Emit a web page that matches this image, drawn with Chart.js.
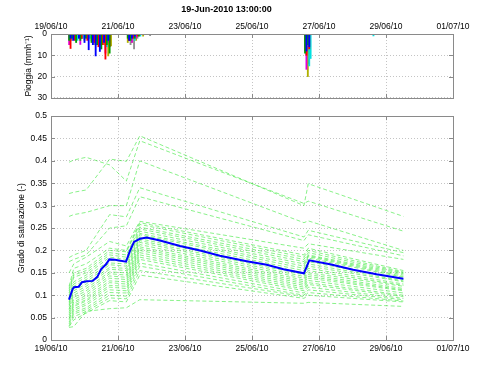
<!DOCTYPE html>
<html>
<head>
<meta charset="utf-8">
<script src="https://cdn.jsdelivr.net/npm/chart.js@4.4.1/dist/chart.umd.min.js"></script>
<style>
  body { margin: 0; background: #fff; width: 504px; height: 379px; position: relative; overflow: hidden; }
  canvas { position: absolute; left: 0; }
  #rainChart { top: 0; }
  #satChart { top: 107px; }
</style>
</head>
<body>
<canvas id="rainChart" width="504" height="107"></canvas>
<canvas id="satChart" width="504" height="272"></canvas>
<script>
// x values are days from 19/06/2010 00:00
const tickDays = [0, 2, 4, 6, 8, 10, 12];

// rainfall (mm/h), one array per gauge; times in hours from 19/06/2010 00:00
const rainColors = ['#0000ff', '#00a000', '#ff0000', '#00e0e0', '#e000e0', '#b0b000', '#909090', '#000000'];
const rainHours = [
  [14, 16, 20, 24, 27, 30, 32, 35, 38, 41, 56, 58, 60, 183, 185],
  [13, 15, 18, 21, 25, 29, 33, 36, 40, 42, 55, 57, 60, 63, 182, 184],
  [14, 17, 22, 26, 31, 34, 37, 39, 42, 56, 59, 62, 183, 185],
  [15, 19, 23, 28, 33, 37, 40, 57, 60, 64, 183, 185, 186, 231],
  [13, 16, 21, 26, 30, 35, 39, 41, 56, 58, 61, 182, 183, 184],
  [14, 18, 24, 29, 34, 38, 41, 43, 55, 58, 61, 66, 184, 185],
  [15, 20, 27, 31, 36, 40, 57, 59.5, 62, 71, 75, 183, 184.5],
  [16, 22, 33, 39, 56, 60, 184]
];
const rainMm = [
  [2, 3, 2, 4, 7.4, 5, 10.3, 8.2, 4, 3, 3, 2, 1, 8, 6],
  [3, 2, 4, 3, 2, 4, 5, 7, 5, 9, 2, 3, 2, 1, 9, 5],
  [6.8, 3, 2, 3, 4, 6, 5, 11.8, 6, 3, 2, 1, 10, 7],
  [2, 3, 2, 2, 3, 4, 6, 2, 3, 1, 7, 15, 11.5, 0.9],
  [5, 2, 4.9, 2, 3, 5, 9, 4, 2, 4, 2, 8, 16.6, 6],
  [2, 3, 3, 3, 4, 5, 10.3, 5.6, 4, 4, 3, 1, 20, 9],
  [3, 2, 2, 5, 7, 4, 5, 7, 2, 0.8, 0.3, 10, 12],
  [1, 2, 3, 4, 3, 2, 14]
];

// mean degree of saturation (blue)
const meanDays = [0.537, 0.647, 0.687, 0.826, 0.925, 1.065, 1.244, 1.383, 1.493, 1.642, 1.741, 1.91, 2.239,
  2.358, 2.478, 2.657, 2.856, 3.254, 3.85, 4.45, 5.04, 5.84, 6.44, 6.94, 7.55, 7.71, 8.33, 9.02, 9.72, 10.52];
const meanSat = [0.090, 0.114, 0.118, 0.119, 0.129, 0.131, 0.132, 0.141, 0.158, 0.169, 0.180, 0.179, 0.175,
  0.199, 0.219, 0.226, 0.229, 0.222, 0.210, 0.200, 0.188, 0.176, 0.168, 0.158, 0.149, 0.178, 0.169, 0.157, 0.147, 0.137];

// ensemble members (green dashed), sampled at the same knot times
const memberDays = [0.54, 0.68, 1.05, 1.75, 2.25, 2.65, 7.55, 7.68, 10.52];
const members = [
  [0.397, 0.402, 0.408, 0.391, 0.355, 0.445, 0.305, 0.310, 0.243],
  [0.327, 0.330, 0.335, 0.404, 0.399, 0.456, 0.300, 0.349, 0.276],
  [0.276, 0.280, 0.285, 0.300, 0.300, 0.400, 0.262, 0.266, 0.200],
  [0.184, 0.190, 0.200, 0.280, 0.275, 0.340, 0.230, 0.245, 0.195],
  [0.175, 0.180, 0.190, 0.250, 0.255, 0.320, 0.222, 0.235, 0.188],
  [0.150, 0.170, 0.185, 0.220, 0.210, 0.265, 0.205, 0.215, 0.180],
  [0.120, 0.160, 0.170, 0.205, 0.200, 0.262, 0.190, 0.205, 0.155],
  [0.115, 0.150, 0.160, 0.200, 0.197, 0.258, 0.185, 0.200, 0.152],
  [0.110, 0.145, 0.155, 0.195, 0.190, 0.252, 0.180, 0.195, 0.150],
  [0.105, 0.140, 0.150, 0.190, 0.185, 0.248, 0.175, 0.190, 0.148],
  [0.100, 0.130, 0.145, 0.185, 0.180, 0.243, 0.170, 0.188, 0.145],
  [0.095, 0.125, 0.140, 0.178, 0.175, 0.238, 0.165, 0.186, 0.142],
  [0.090, 0.120, 0.135, 0.172, 0.170, 0.235, 0.160, 0.183, 0.140],
  [0.085, 0.115, 0.130, 0.168, 0.165, 0.230, 0.155, 0.175, 0.135],
  [0.082, 0.110, 0.125, 0.162, 0.160, 0.226, 0.150, 0.170, 0.132],
  [0.078, 0.105, 0.120, 0.158, 0.155, 0.222, 0.146, 0.165, 0.130],
  [0.075, 0.100, 0.115, 0.152, 0.150, 0.218, 0.142, 0.160, 0.125],
  [0.070, 0.095, 0.110, 0.148, 0.145, 0.213, 0.138, 0.155, 0.122],
  [0.068, 0.090, 0.105, 0.143, 0.140, 0.208, 0.134, 0.150, 0.120],
  [0.064, 0.085, 0.100, 0.138, 0.135, 0.204, 0.130, 0.146, 0.115],
  [0.060, 0.082, 0.095, 0.132, 0.130, 0.200, 0.126, 0.142, 0.112],
  [0.056, 0.078, 0.090, 0.128, 0.125, 0.195, 0.122, 0.138, 0.110],
  [0.052, 0.075, 0.087, 0.122, 0.120, 0.190, 0.118, 0.133, 0.105],
  [0.048, 0.070, 0.082, 0.118, 0.115, 0.185, 0.114, 0.128, 0.100],
  [0.045, 0.066, 0.078, 0.112, 0.110, 0.180, 0.110, 0.124, 0.097],
  [0.040, 0.062, 0.072, 0.106, 0.105, 0.172, 0.105, 0.118, 0.093],
  [0.036, 0.058, 0.068, 0.100, 0.098, 0.165, 0.100, 0.112, 0.090],
  [0.032, 0.052, 0.064, 0.094, 0.092, 0.155, 0.097, 0.106, 0.087],
  [0.030, 0.045, 0.060, 0.088, 0.085, 0.145, 0.093, 0.100, 0.085],
  [0.028, 0.030, 0.064, 0.070, 0.072, 0.090, 0.082, 0.084, 0.075]
];

const font = { family: 'Liberation Sans, Arial, sans-serif', size: 8.5 };

function dayLabel(v) {
  const d = new Date(2010, 5, 19 + v);
  const p = n => String(n).padStart(2, '0');
  return p(d.getDate()) + '/' + p(d.getMonth() + 1) + '/' + p(d.getFullYear() % 100);
}

function xAxis(position, pad, height) {
  return {
    type: 'linear', position: position, min: 0, max: 12, offset: false,
    afterBuildTicks: s => { s.ticks = tickDays.map(v => ({ value: v })); },
    afterFit: s => { s.height = height; },
    ticks: { callback: dayLabel, font: font, color: '#000', padding: pad, maxRotation: 0, autoSkip: false },
    grid: { color: '#c4c4c4', drawTicks: false, offset: false },
    border: { display: false, dash: [1, 2] }
  };
}

// MATLAB-like box with inward ticks
const boxPlugin = {
  id: 'box',
  afterDraw(chart) {
    const { ctx, chartArea: a, scales } = chart;
    ctx.save();
    ctx.strokeStyle = '#8a8a8a';
    ctx.lineWidth = 1;
    ctx.beginPath();
    scales.x.ticks.forEach(t => {
      const px = Math.round(scales.x.getPixelForValue(t.value)) + 0.5;
      ctx.moveTo(px, a.top); ctx.lineTo(px, a.top + 4);
      ctx.moveTo(px, a.bottom); ctx.lineTo(px, a.bottom - 4);
    });
    scales.y.ticks.forEach(t => {
      const py = Math.round(scales.y.getPixelForValue(t.value)) + 0.5;
      ctx.moveTo(a.left, py); ctx.lineTo(a.left + 4, py);
      ctx.moveTo(a.right, py); ctx.lineTo(a.right - 4, py);
    });
    ctx.stroke();
    ctx.strokeRect(Math.round(a.left) + 0.5, Math.round(a.top) + 0.5,
      Math.round(a.right - a.left), Math.round(a.bottom - a.top));
    ctx.restore();
  }
};

// Rainfall panel
new Chart(document.getElementById('rainChart'), {
  type: 'bar',
  data: {
    datasets: rainHours.map((hrs, g) => ({
      data: hrs.map((h, i) => ({ x: h / 24, y: rainMm[g][i] })),
      backgroundColor: rainColors[g],
      barThickness: 1.2,
      grouped: false
    }))
  },
  options: {
    responsive: false, animation: false,
    layout: { padding: { left: 0, right: 51, top: 0, bottom: 5.3 } },
    plugins: {
      legend: { display: false }, tooltip: { enabled: false },
      title: {
        display: true, text: '19-Jun-2010 13:00:00', color: '#000',
        font: { family: font.family, size: 9, weight: 'bold' }, padding: { top: 4, bottom: 4 }
      }
    },
    scales: {
      x: xAxis('top', 2, 15.2),
      y: {
        type: 'linear', reverse: true, min: 0, max: 30,
        afterFit: s => { s.width = 51; },
        ticks: { stepSize: 10, font: font, color: '#000', padding: 4 },
        grid: { color: '#c4c4c4', drawTicks: false },
        border: { display: false, dash: [1, 2] },
        title: { display: true, text: 'Pioggia (mmh⁻¹)', font: font, color: '#000', padding: { top: 24, bottom: 0 } }
      }
    }
  },
  plugins: [boxPlugin]
});

// Degree of saturation panel
const satSets = [{
  data: meanDays.map((d, i) => ({ x: d, y: meanSat[i] })),
  borderColor: '#0000ff', borderWidth: 2, pointRadius: 0, tension: 0
}].concat(members.map(m => ({
  data: memberDays.map((d, i) => ({ x: d, y: m[i] })),
  borderColor: 'rgba(40, 230, 40, 0.55)', borderWidth: 1, borderDash: [4, 2.5], pointRadius: 0, tension: 0
})));

new Chart(document.getElementById('satChart'), {
  type: 'line',
  data: { datasets: satSets },
  options: {
    responsive: false, animation: false,
    layout: { padding: { left: 0, right: 51, top: 6.3, bottom: 0 } },
    plugins: { legend: { display: false }, tooltip: { enabled: false } },
    scales: {
      x: xAxis('bottom', 3.5, 39),
      y: {
        type: 'linear', min: 0, max: 0.5,
        afterFit: s => { s.width = 51; },
        ticks: { stepSize: 0.05, font: font, color: '#000', padding: 4, callback: v => String(+v.toFixed(2)) },
        grid: { color: '#c4c4c4', drawTicks: false },
        border: { display: false, dash: [1, 2] },
        title: { display: true, text: 'Grado di saturazione (-)', font: font, color: '#000', padding: { top: 17, bottom: 0 } }
      }
    }
  },
  plugins: [boxPlugin]
});
</script>
</body>
</html>
